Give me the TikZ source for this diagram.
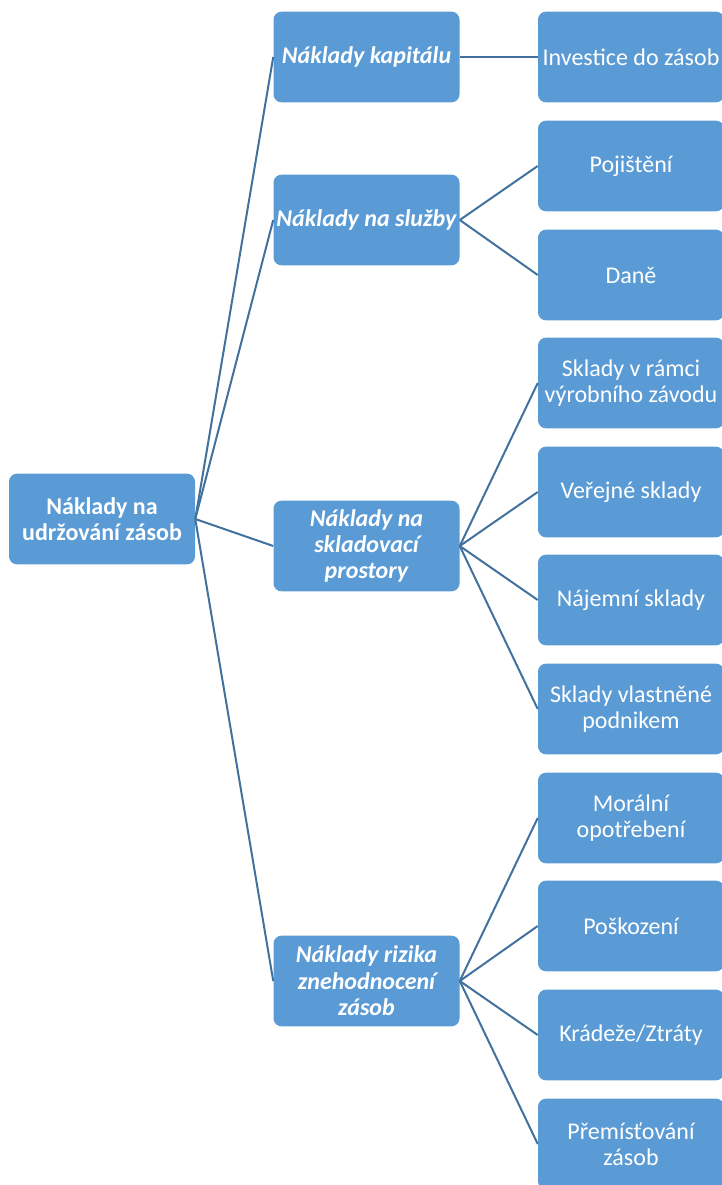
\documentclass[tikz,border=0pt]{standalone}
\usepackage{fontspec}
\setmainfont{Carlito}
\definecolor{boxfill}{HTML}{5B9BD5}
\definecolor{linkcol}{HTML}{41719C}
\begin{document}
\begin{tikzpicture}[x=0.75pt,y=-0.75pt,
  box/.style={draw=none,fill=boxfill,rounded corners=6pt,minimum width=139.5pt,
    minimum height=68pt,inner sep=0pt,align=center,text=white,
    font=\fontsize{18}{19.8}\selectfont},
  rootbox/.style={box,font=\fontsize{18}{19.8}\selectfont\bfseries},
  midbox/.style={box,font=\fontsize{18}{19.8}\selectfont\bfseries\itshape},
  link/.style={draw=linkcol,line width=1.5pt}]
\useasboundingbox (0,0) rectangle (721,1185);
% root
\node[rootbox] (root) at (102,519) {Náklady na\\udržování zásob};
% second level
\node[midbox] (kap) at (366.5,57) {Náklady kapitálu};
\node[midbox] (slu) at (366.5,220) {Náklady na služby};
\node[midbox] (skl) at (366.5,546) {Náklady na\\skladovací\\prostory};
\node[midbox] (riz) at (366.5,981) {Náklady rizika\\znehodnocení\\zásob};
% third level
\node[box] (inv) at (631,57) {Investice do zásob};
\node[box] (poj) at (631,166) {Pojištění};
\node[box] (dan) at (631,275) {Daně};
\node[box] (svr) at (631,383) {Sklady v rámci\\výrobního závodu};
\node[box] (ver) at (631,492) {Veřejné sklady};
\node[box] (naj) at (631,600) {Nájemní sklady};
\node[box] (vla) at (631,709) {Sklady vlastněné\\podnikem};
\node[box] (mor) at (631,818) {Morální\\opotřebení};
\node[box] (pos) at (631,926) {Poškození};
\node[box] (kra) at (631,1035) {Krádeže/Ztráty};
\node[box] (pre) at (631,1144) {Přemísťování\\zásob};
% connectors
\foreach \c in {kap,slu,skl,riz} \draw[link] (root.east) -- (\c.west);
\draw[link] (kap.east) -- (inv.west);
\foreach \c in {poj,dan} \draw[link] (slu.east) -- (\c.west);
\foreach \c in {svr,ver,naj,vla} \draw[link] (skl.east) -- (\c.west);
\foreach \c in {mor,pos,kra,pre} \draw[link] (riz.east) -- (\c.west);
\end{tikzpicture}
\end{document}
